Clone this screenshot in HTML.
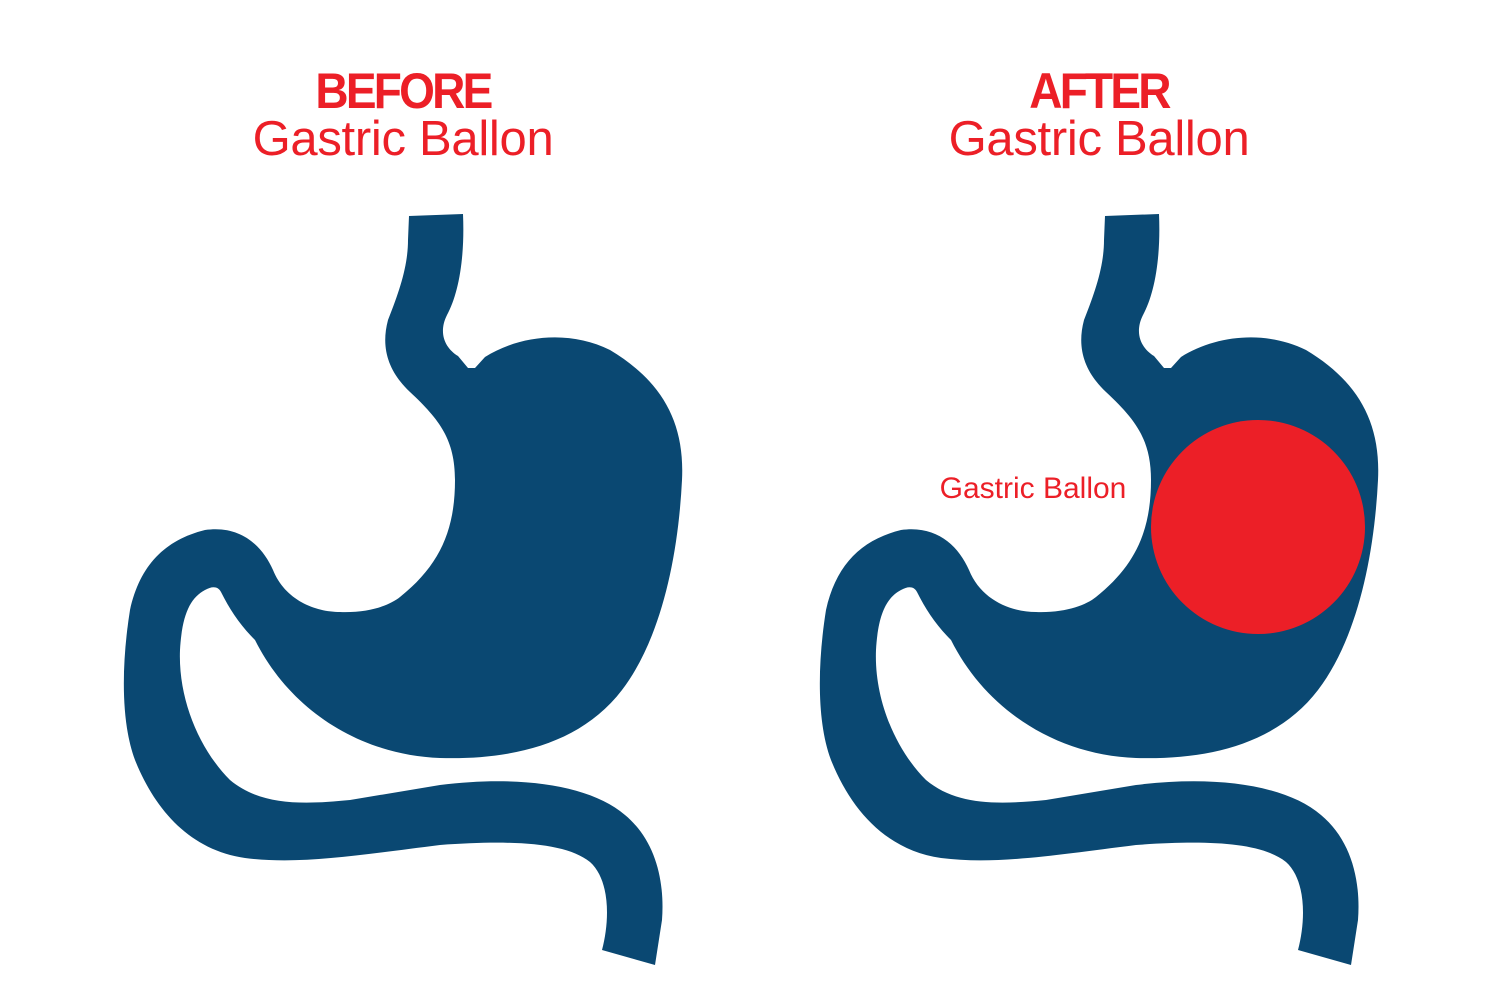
<!DOCTYPE html>
<html><head><meta charset="utf-8"><style>
html,body{margin:0;padding:0;background:#fff;}
body{width:1500px;height:1000px;position:relative;overflow:hidden;font-family:"Liberation Sans",sans-serif;}
.t{position:absolute;color:#ec1f27;text-align:center;width:500px;}
.b{font-weight:bold;font-size:50px;top:62px;letter-spacing:-3px;transform:scaleX(0.92);}
.g{font-size:49px;top:111px;letter-spacing:-0.3px;}
</style></head><body>
<div class="t b" style="left:153px">BEFORE</div>
<div class="t g" style="left:153px">Gastric Ballon</div>
<div class="t b" style="left:849px">AFTER</div>
<div class="t g" style="left:849px">Gastric Ballon</div>
<svg width="1500" height="1000" style="position:absolute;left:0;top:0">
<defs>
<path id="st" fill="#0a4872" d="M409,216 L463,214 C465,260 458,295 447,315 C438,333 445,348 458,356 L468,368 L475,368 L485,357 C520,335 570,330 610,350 C660,380 685,420 682,480 C678,560 660,640 622,690 C580,745 510,760 440,758 C360,755 290,710 255,640 C240,625 230,610 221,592 C218,586 212,586 205,590 C190,598 182,615 180,650 C178,700 200,750 230,780 C260,805 300,805 350,800 L440,785 C520,775 590,785 625,815 C655,840 665,880 662,920 L655,965 L602,950 C610,920 610,880 590,862 C565,842 510,840 440,845 C360,855 300,865 245,858 C190,850 155,810 135,760 C120,720 122,660 130,610 C140,565 165,540 205,530 C240,525 262,545 273,570 C285,600 315,612 340,612 C370,613 390,605 400,597 C440,565 455,530 455,480 C455,440 440,420 410,392 C390,373 380,350 388,320 C400,290 408,265 408,240 Z"/>
</defs>
<use href="#st"/>
<use href="#st" transform="translate(696,0)"/>
<circle cx="1258" cy="527" r="107" fill="#ec1f27"/>
<text x="1033" y="498" text-anchor="middle" font-family="Liberation Sans, sans-serif" font-size="30" fill="#ec1f27" letter-spacing="0">Gastric Ballon</text>
</svg>
</body></html>
